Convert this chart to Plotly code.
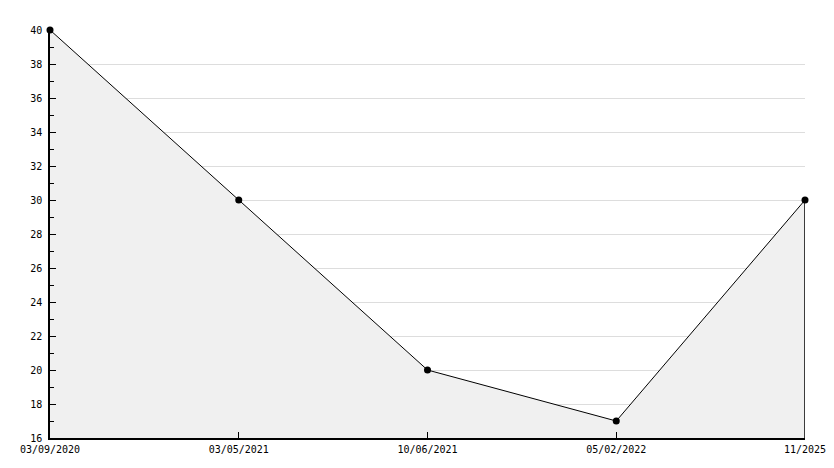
import plotly.graph_objects as go

# dados do gráfico
datas = ['03/09/2020', '03/05/2021', '10/06/2021', '05/02/2022', '11/2025']
valores = [40, 30, 20, 17, 30]
y_min, y_max = 16, 40

fonte = dict(family='DejaVu Sans Mono', size=10, color='black')

fig = go.Figure()

# área preenchida com a linha e os marcadores
fig.add_trace(go.Scatter(
    x=datas, y=valores, mode='lines+markers',
    fill='tozeroy', fillcolor='#f0f0f0',
    line=dict(color='black', width=1),
    marker=dict(symbol='circle', size=7, color='black'),
    cliponaxis=False,
    hoverinfo='x+y'
))

# borda direita da área preenchida
fig.add_shape(type='line', x0=datas[-1], x1=datas[-1], y0=y_min, y1=valores[-1],
              line=dict(color='black', width=1.5), layer='above')

fig.update_layout(
    width=834, height=468,
    margin=dict(l=50, r=29, t=30, b=30),
    paper_bgcolor='white', plot_bgcolor='white',
    showlegend=False,
    font=fonte,
    xaxis=dict(
        type='category', range=[0, len(datas) - 1],
        automargin=False,
        showgrid=False, zeroline=False,
        showline=True, linecolor='black', linewidth=1.5,
        ticks='inside', ticklen=6, tickcolor='black',
        tickfont=fonte, ticklabelstandoff=1,
    ),
    yaxis=dict(
        range=[y_min, y_max], dtick=2,
        automargin=False,
        showgrid=True, gridcolor='#dddddd', gridwidth=1,
        zeroline=False,
        showline=True, linecolor='black', linewidth=1.5,
        ticks='inside', ticklen=6, tickcolor='black',
        minor=dict(ticks='inside', dtick=1, ticklen=4, tickcolor='black', showgrid=False),
        tickfont=fonte, ticklabelstandoff=4,
    ),
)

# tirar a margem padrão da página e a barra de ferramentas
fig.write_html('out.html', config={'displayModeBar': False},
               post_script="document.body.style.margin='0';")
